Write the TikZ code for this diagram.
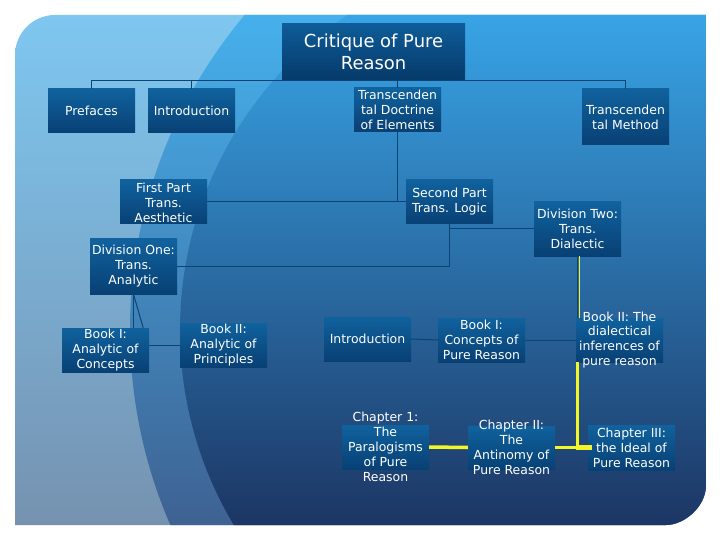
\documentclass[tikz,border=0pt]{standalone}
\usepackage{fontspec}
\setmainfont{DejaVu Sans}
\usetikzlibrary{calc}
\definecolor{boxtop}{RGB}{16,98,158}
\definecolor{boxbot}{RGB}{8,64,116}
\definecolor{ttop}{RGB}{14,92,152}
\definecolor{tbot}{RGB}{6,58,106}
\definecolor{lineblue}{RGB}{12,68,118}
\definecolor{yel}{RGB}{242,246,40}
\definecolor{bgA}{RGB}{126,199,240}
\definecolor{bgB}{RGB}{118,146,176}
\definecolor{bgC}{RGB}{70,176,236}
\definecolor{bgD}{RGB}{62,98,146}
\definecolor{bgE}{RGB}{56,164,230}
\definecolor{bgF}{RGB}{28,54,100}
\begin{document}
\begin{tikzpicture}[x=1bp,y=-1bp,
  box/.style={top color=boxtop,bottom color=boxbot,minimum width=87bp,minimum height=44bp,inner sep=0pt,draw=none},
  lbl/.style={text=white,align=center,font=\fontsize{12.5}{15}\selectfont,inner sep=0pt},
  conn/.style={draw=lineblue,line width=1bp},
  hl/.style={draw=yel,line width=3.5bp}]
\fill[white] (0,0) rectangle (720,540);
\useasboundingbox (0,0) rectangle (720,540);
% panel
\begin{scope}
\clip (15,525) -- (15,55) .. controls (15,33) and (33,15) .. (55,15) -- (706,15) -- (706,485) .. controls (706,507) and (684,525) .. (666,525) -- cycle;
\shade[top color=bgA,bottom color=bgB] (15,15) rectangle (706,525);
\begin{scope}
\clip (620,330) circle[radius=490bp];
\shade[top color=bgC,bottom color=bgD] (15,15) rectangle (706,525);
\end{scope}
\begin{scope}
\clip (560,330) circle[radius=380bp];
\shade[top color=bgE,bottom color=bgF] (15,15) rectangle (706,525);
\end{scope}
\end{scope}
% boxes
\node[box,top color=ttop,bottom color=tbot,minimum width=183bp,minimum height=56bp] (title) at (373.5,52) {};
\node[box] (pref) at (91.5,111) {};
\node[box] (intA) at (191.5,111) {};
\node[box] (doct) at (397.5,110) {};
\node[box,minimum height=56bp] (meth) at (625.5,117) {};
\node[box] (first) at (163.5,202) {};
\node[box] (second) at (449.5,202) {};
\node[box,minimum height=54bp] (divtwo) at (577.5,229) {};
\node[box,minimum height=55bp] (divone) at (133.5,266.5) {};
\node[box] (bIa) at (105.5,350) {};
\node[box] (bIIa) at (223.5,345) {};
\node[box] (intB) at (367.5,339) {};
\node[box] (bIc) at (481.5,340) {};
\node[box] (bIId) at (619.5,340) {};
\node[box] (chI) at (385.5,447) {};
\node[box,minimum height=43bp] (chII) at (511.5,447.5) {};
\node[box,minimum height=45bp] (chIII) at (631.5,447.5) {};
% connectors
\draw[conn] (pref.north) |- (meth.north |- title.south) -- (meth.north);
\draw[conn] (intA.north) -- (intA.north |- title.south);
\draw[conn] (doct.north) -- (doct.north |- title.south);
\draw[conn] (doct.south) -- (doct.south |- first.east);
\draw[conn] (first.east) -- (second.west);
\draw[conn] (second.south) |- (divone.east);
\draw[conn] (second.south |- divtwo.west) -- (divtwo.west);
\draw[conn] (divone.south) -- (divone.south |- bIa.north);
\draw[conn] (divone.south) -- ([xshift=-6bp]bIa.north east);
\draw[conn] (bIa.east |- bIIa.west) -- (bIIa.west);
\draw[conn] (intB.east) -- (bIc.west);
\draw[conn] (bIc.east) -- (bIId.west);
\draw[conn] (divtwo.south) -- (divtwo.south |- bIId.north);
\draw[yel,line width=0.8bp] ([xshift=1.4bp]divtwo.south) -- ([xshift=1.4bp]divtwo.south |- bIId.north);
\coordinate (yj) at ([xshift=1.5bp]bIId.south west |- chIII.west);
\draw[hl] ([xshift=1.5bp]bIId.south west) -- (yj);
\draw[yel,line width=5bp] ([xshift=-1.75bp]yj) -- ([xshift=4bp]chIII.west);
\draw[hl] (chII.east) -- (chII.east -| yj);
\draw[hl] (chI.east) -- (chII.west);
% labels
\node[lbl,font=\fontsize{18}{22}\selectfont] at (title) {Critique of Pure\\Reason};
\node[lbl] at (pref) {Prefaces};
\node[lbl] at (intA) {Introduction};
\node[lbl] at (doct) {Transcenden\\tal Doctrine\\of Elements};
\node[lbl] at ([yshift=-0.5bp]meth.center) {Transcenden\\tal Method};
\node[lbl] at ([yshift=-1bp]first.center) {First Part\\Trans.\\Aesthetic};
\node[lbl] at (second) {Second Part\\Trans. Logic};
\node[lbl] at (divtwo) {Division Two:\\Trans.\\Dialectic};
\node[lbl] at (divone) {Division One:\\Trans.\\Analytic};
\node[lbl] at (bIa) {Book I:\\Analytic of\\Concepts};
\node[lbl] at (bIIa) {Book II:\\Analytic of\\Principles};
\node[lbl] at (intB) {Introduction};
\node[lbl] at (bIc) {Book I:\\Concepts of\\Pure Reason};
\node[lbl] at (bIId) {Book II: The\\dialectical\\inferences of\\pure reason};
\node[lbl] at (chI) {Chapter 1:\\The\\Paralogisms\\of Pure\\Reason};
\node[lbl] at (chII) {Chapter II:\\The\\Antinomy of\\Pure Reason};
\node[lbl] at (chIII) {Chapter III:\\the Ideal of\\Pure Reason};
\end{tikzpicture}
\end{document}
